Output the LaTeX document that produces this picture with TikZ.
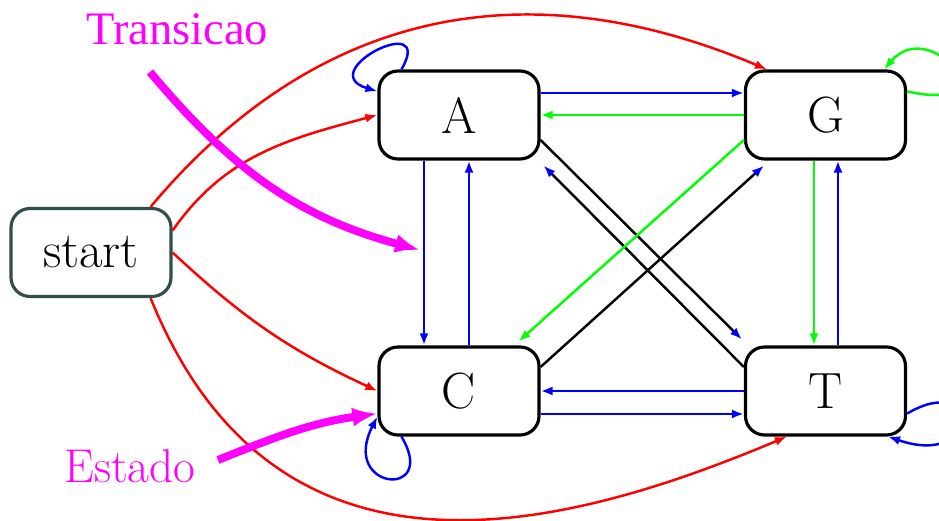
\documentclass[tikz,border=0pt]{standalone}
\usepackage{fontspec}
\usetikzlibrary{arrows.meta}
\newfontfamily\labelfont{Liberation Serif}
\definecolor{startgray}{RGB}{47,79,79}
\definecolor{notecolor}{RGB}{255,0,255}

\begin{document}
\begin{tikzpicture}[
    statebox/.style = {draw, line width=1.8pt, rounded corners=0.38cm,
                       minimum width=3.2cm, minimum height=1.76cm,
                       font=\fontsize{29}{34}\selectfont},
    edge/.style  = {line width=1.4pt, -{Latex[length=0.24cm,width=0.18cm]}},
    mixed/.style = {edge, draw=black, -{Latex[length=0.24cm,width=0.18cm,color=blue]}},
    note/.style  = {notecolor, line width=4.5pt, -{Latex[length=0.5cm,width=0.38cm]}}
  ]

  \useasboundingbox (0,0) rectangle (18.78,10.42);

  % States
  \node[statebox, draw=startgray] (start) at (1.82,5.37) {start};
  \node[statebox] (A) at ( 9.18,8.12) {A};
  \node[statebox] (G) at (16.51,8.12) {G};
  \node[statebox] (C) at ( 9.18,2.60) {C};
  \node[statebox] (T) at (16.51,2.60) {T};

  % Initial transitions
  \draw[edge, red] ([yshift=0.44cm]start.east) to[out=55,in=195] (A.west);
  \draw[edge, red] (start.east) to[out=-43,in=155] (C.west);
  \draw[edge, red] ([xshift=-0.44cm]start.north east)
    .. controls +(3.08,3.68) and +(-5.16,2.18) .. ([xshift=0.46cm]G.north west);
  \draw[edge, red] ([xshift=-0.44cm]start.south east)
    .. controls +(2.48,-6.12) and +(-4.60,-1.94) .. ([xshift=0.86cm]T.south west);

  % Horizontal transitions
  \draw[edge, blue]  ([yshift=0.44cm]A.east) -- ([yshift=0.44cm]G.west);
  \draw[edge, green] (G.west) -- (A.east);
  \draw[edge, blue]  (T.west) -- (C.east);
  \draw[edge, blue]  ([yshift=-0.46cm]C.east) -- ([yshift=-0.46cm]T.west);

  % Vertical transitions
  \draw[edge, blue]  ([xshift=-0.70cm]A.south) -- ([xshift=-0.70cm]C.north);
  \draw[edge, blue]  ([xshift=0.20cm]C.north) -- ([xshift=0.20cm]A.south);
  \draw[edge, green] ([xshift=-0.23cm]G.south) -- ([xshift=-0.23cm]T.north);
  \draw[edge, blue]  ([xshift=0.25cm]T.north) -- ([xshift=0.25cm]G.south);

  % Diagonal transitions
  \draw[mixed] ([yshift=-0.50cm]A.east) -- ([shift={(-0.04,0.12)}]T.north west);
  \draw[mixed] ([yshift=0.48cm]T.west) -- ([shift={(0.06,-0.10)}]A.south east);
  \draw[mixed] ([yshift=0.48cm]C.east) -- ([shift={(0.40,-0.10)}]G.south west);
  \draw[edge, green] ([yshift=-0.50cm]G.west) -- ([shift={(-0.44,0.08)}]C.north east);

  % Self loops
  \draw[edge, blue] ([xshift=0.48cm]A.north west)
    .. controls +(0.70,1.20) and +(-1.30,0.40) .. ([yshift=-0.44cm]A.north west);
  \draw[edge, green] ([yshift=-0.44cm]G.north east)
    .. controls +(2.06,-0.46) and +(0.94,1.10) .. ([xshift=-0.46cm]G.north east);
  \draw[edge, blue] ([xshift=0.48cm]C.south west)
    .. controls +(0.76,-1.26) and +(-0.76,-1.48) .. ([yshift=0.40cm]C.south west);
  \draw[edge, blue] ([yshift=0.46cm]T.south east)
    .. controls +(1.46,0.86) and +(1.86,-0.64) .. ([xshift=-0.38cm]T.south east);

  % Labels
  \node[notecolor, anchor=base west, font=\labelfont\fontsize{26.5}{30}\selectfont]
    (transicao) at (1.60,9.52) {Transicao};
  \node[notecolor, anchor=base west, font=\fontsize{27}{32}\selectfont]
    (estado) at (1.16,0.76) {Estado};

  \coordinate (transtail) at (3.00,8.98);
  \coordinate (transtip)  at (8.40,5.42);
  \coordinate (estadotail) at (4.36,1.22);

  \draw[note] (transtail) to[out=-50,in=165] (transtip);
  \draw[note] (estadotail) to[out=22,in=188] ([yshift=0.46cm]C.south west);

\end{tikzpicture}
\end{document}
